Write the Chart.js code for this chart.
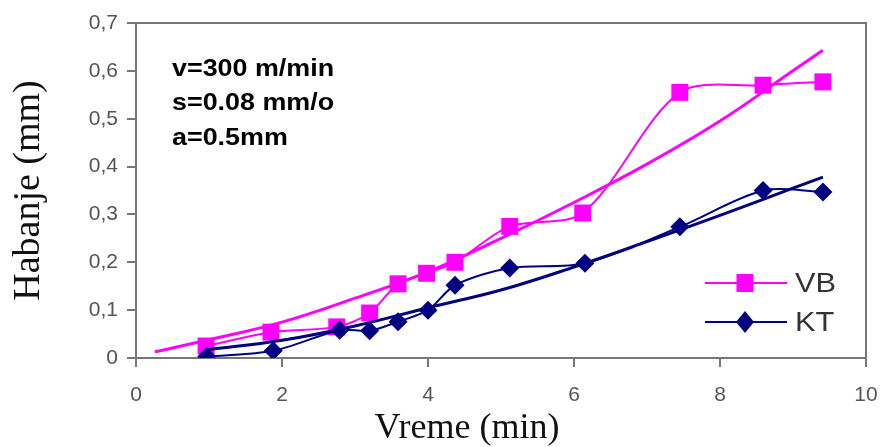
<!DOCTYPE html>
<html>
<head>
<meta charset="utf-8">
<script src="https://cdn.jsdelivr.net/npm/chart.js@4/dist/chart.umd.min.js"></script>
<style>
html,body{margin:0;padding:0;background:#fff;}
#wrap{width:883px;height:447px;position:relative;}
</style>
</head>
<body>
<div id="wrap"><canvas id="c" width="883" height="447"></canvas></div>
<script>
// Measured data (VB = flank wear, KT = crater wear)
const vbTime = [0.96, 1.85, 2.75, 3.2, 3.59, 3.98, 4.37, 5.12, 6.12, 7.45, 8.59, 9.41];
const vbWear = [0.025, 0.054, 0.065, 0.094, 0.155, 0.177, 0.2, 0.275, 0.303, 0.555, 0.57, 0.577];
const ktTime = [0.97, 1.88, 2.79, 3.2, 3.59, 4.0, 4.37, 5.12, 6.15, 7.45, 8.59, 9.41];
const ktWear = [0.003, 0.015, 0.058, 0.057, 0.076, 0.1, 0.152, 0.188, 0.198, 0.274, 0.35, 0.347];
// Trend curves
const vbTrendTime = [0.26, 1, 2, 3, 4, 5, 6, 7, 8, 9, 9.41];
const vbTrendWear = [0.013, 0.038, 0.075, 0.125, 0.18, 0.25, 0.325, 0.405, 0.495, 0.6, 0.643];
const ktTrendTime = [0.97, 2, 3, 4, 5, 6, 7, 8, 9, 9.41];
const ktTrendWear = [0.017, 0.037, 0.067, 0.105, 0.142, 0.19, 0.243, 0.298, 0.355, 0.378];
const seriesLabels = ['VB', 'KT'];
const xTicks = [0, 2, 4, 6, 8, 10];
const yTicks = [0, 0.1, 0.2, 0.3, 0.4, 0.5, 0.6, 0.7];
const noteLines = ['v=300 m/min', 's=0.08 mm/o', 'a=0.5mm'];
const xTitle = 'Vreme (min)';
const yTitle = 'Habanje (mm)';

const PINK = '#ff00ff';
const NAVY = '#000080';
const pts = (xs, ys) => xs.map((x, i) => ({x: x, y: ys[i]}));

const notePlugin = {
  id: 'notes',
  afterDraw(chart) {
    const ctx = chart.ctx;
    const a = chart.chartArea;
    ctx.save();
    ctx.fillStyle = '#000';
    ctx.textAlign = 'left';
    ctx.textBaseline = 'middle';
    // annotation text (slightly stretched like the source image)
    noteLines.forEach((t, i) => {
      ctx.save();
      ctx.translate(a.left + 36, a.top + 46 + i * 34.5);
      ctx.scale(1.12, 1);
      ctx.font = 'bold 24px "Liberation Sans", Arial, sans-serif';
      ctx.fillText(t, 0, 0);
      ctx.restore();
    });
    // legend in series order
    seriesLabels.forEach((lab, i) => {
      const d = chart.data.datasets.find(ds => ds.label === lab);
      const y = a.top + 260 + i * 39;
      const lx0 = a.left + 569, lx1 = a.left + 651;
      ctx.strokeStyle = d.borderColor;
      ctx.lineWidth = 2;
      ctx.beginPath(); ctx.moveTo(lx0, y); ctx.lineTo(lx1, y); ctx.stroke();
      ctx.fillStyle = d.pointBackgroundColor;
      const mx = a.left + 609;
      if (d.pointStyle === 'rect') {
        ctx.fillRect(mx - 8.5, y - 9, 17, 18);
      } else {
        ctx.beginPath();
        ctx.moveTo(mx - 9, y); ctx.lineTo(mx, y - 11); ctx.lineTo(mx + 9, y); ctx.lineTo(mx, y + 11);
        ctx.closePath(); ctx.fill();
      }
      ctx.save();
      ctx.translate(lx1 + 8, y + 1);
      ctx.scale(1.1, 1);
      ctx.fillStyle = '#333';
      ctx.font = '28px "Liberation Sans", Arial, sans-serif';
      ctx.fillText(lab, 0, 0);
      ctx.restore();
    });
    // x-axis title (offset left of centre as in the source)
    ctx.fillStyle = '#111';
    ctx.textAlign = 'center';
    ctx.textBaseline = 'middle';
    ctx.font = '36px "Liberation Serif", "Times New Roman", serif';
    ctx.fillText(xTitle, 467, 429);
    ctx.restore();
  }
};

new Chart(document.getElementById('c'), {
  type: 'line',
  data: {
    datasets: [
      {label: 'VB trend', data: pts(vbTrendTime, vbTrendWear), borderColor: PINK, borderWidth: 3, pointRadius: 0, tension: 0.4, fill: false},
      {label: 'KT trend', data: pts(ktTrendTime, ktTrendWear), borderColor: NAVY, borderWidth: 3, pointRadius: 0, tension: 0.4, fill: false},
      {label: seriesLabels[1], data: pts(ktTime, ktWear), borderColor: NAVY, borderWidth: 2, pointStyle: 'rectRot', pointRadius: 9.5, pointBackgroundColor: NAVY, pointBorderColor: NAVY, pointBorderWidth: 0, tension: 0.3, fill: false},
      {label: seriesLabels[0], data: pts(vbTime, vbWear), borderColor: PINK, borderWidth: 2, pointStyle: 'rect', pointRadius: 12, pointBackgroundColor: PINK, pointBorderColor: PINK, pointBorderWidth: 0, tension: 0.3, fill: false}
    ]
  },
  options: {
    responsive: false,
    animation: false,
    layout: {padding: {top: 23, right: 17, left: 0, bottom: 0}},
    plugins: {legend: {display: false}, tooltip: {enabled: false}},
    scales: {
      x: {
        type: 'linear', min: 0, max: 10,
        afterBuildTicks: s => { s.ticks = xTicks.map(v => ({value: v})); },
        afterFit: s => { s.height = 89; s.paddingLeft = 0; s.paddingRight = 0; },
        grid: {display: true, drawOnChartArea: false, drawTicks: true, tickLength: 9, color: '#777', lineWidth: 2},
        border: {display: true, color: '#777', width: 2},
        ticks: {color: '#555', font: {size: 21, family: '"Liberation Sans", Arial, sans-serif'}, padding: 16, maxRotation: 0, autoSkip: false},
        title: {display: false}
      },
      y: {
        type: 'linear', min: 0, max: 0.7,
        afterBuildTicks: s => { s.ticks = yTicks.map(v => ({value: v})); },
        afterFit: s => { s.width = 136; s.paddingTop = 0; s.paddingBottom = 0; },
        grid: {display: true, drawOnChartArea: false, drawTicks: true, tickLength: 9, color: '#777', lineWidth: 2},
        border: {display: true, color: '#777', width: 2},
        ticks: {color: '#555', font: {size: 21, family: '"Liberation Sans", Arial, sans-serif'}, padding: 9,
          callback: v => v === 0 ? '0' : v.toFixed(1).replace('.', ',')},
        title: {display: true, text: yTitle, color: '#111', font: {size: 38, lineHeight: 1.0, family: '"Liberation Serif", "Times New Roman", serif'}, padding: {top: 10, bottom: 0}}
      }
    }
  },
  plugins: [notePlugin, {
    id: 'frame',
    afterDraw(chart) {
      const a = chart.chartArea, ctx = chart.ctx;
      ctx.save();
      ctx.strokeStyle = '#777'; ctx.lineWidth = 2;
      ctx.beginPath();
      ctx.moveTo(a.left, a.top); ctx.lineTo(a.right, a.top); ctx.lineTo(a.right, a.bottom);
      ctx.stroke();
      ctx.restore();
    }
  }]
});
</script>
</body>
</html>
